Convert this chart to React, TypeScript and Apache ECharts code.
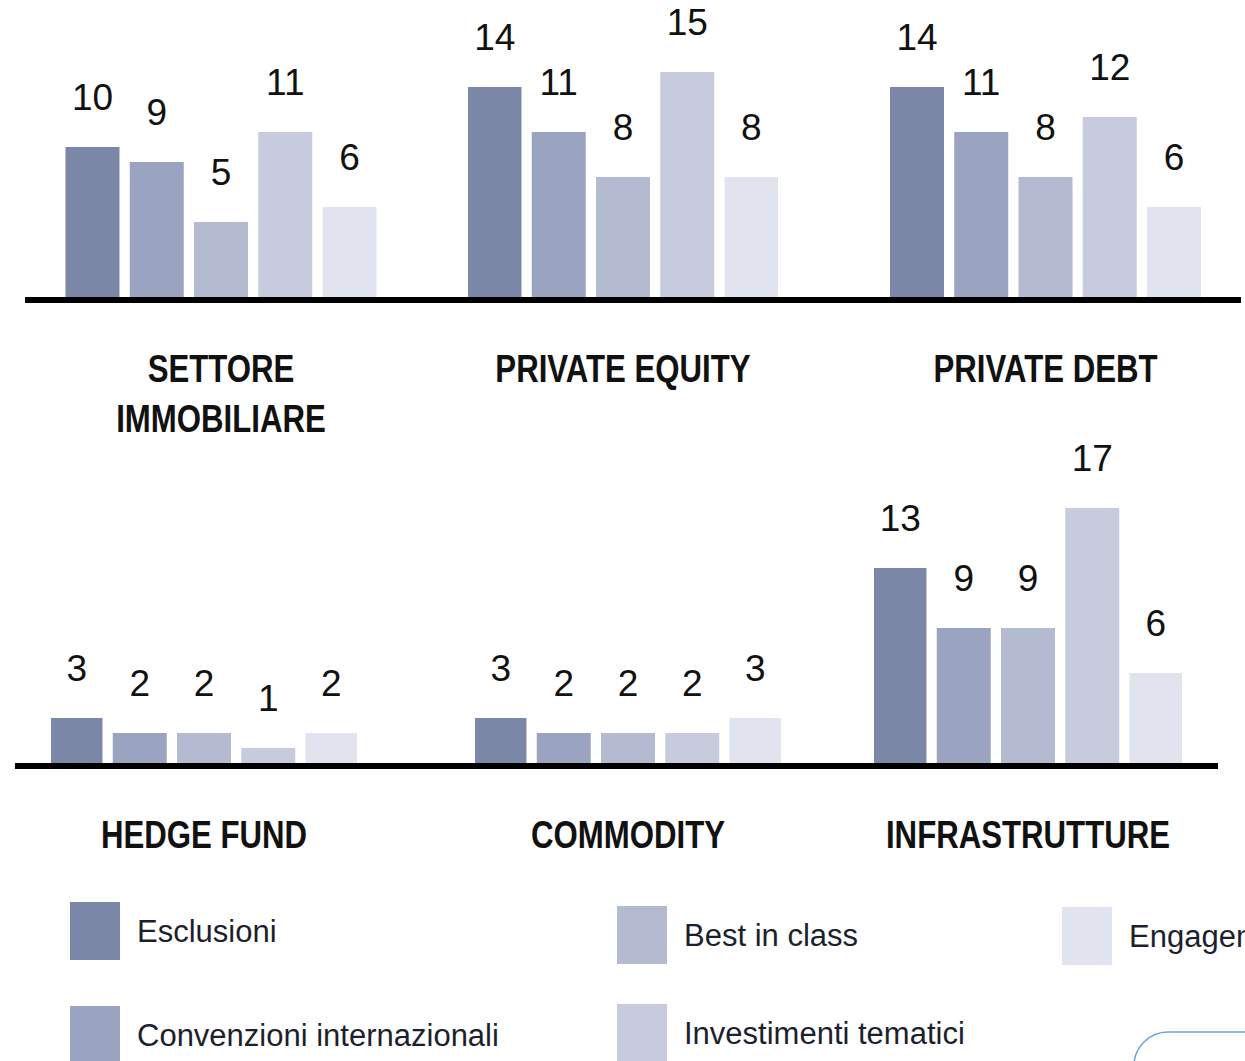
import React, { useEffect, useRef } from "react";
import * as echarts from "echarts";

// ---- Data ----
const categories = [
  "SETTORE\nIMMOBILIARE",
  "PRIVATE EQUITY",
  "PRIVATE DEBT",
  "HEDGE FUND",
  "COMMODITY",
  "INFRASTRUTTURE",
];
const seriesNames = [
  "Esclusioni",
  "Convenzioni internazionali",
  "Best in class",
  "Investimenti tematici",
  "Engagement",
];
const esclusioni = [10, 14, 14, 3, 3, 13];
const convenzioni = [9, 11, 11, 2, 2, 9];
const bestInClass = [5, 8, 8, 2, 2, 9];
const tematici = [11, 15, 12, 1, 2, 17];
const engagement = [6, 8, 6, 2, 3, 6];
const seriesValues = [esclusioni, convenzioni, bestInClass, tematici, engagement];

// ---- Styles / layout ----
const colors = ["#7b87a6", "#9aa3bf", "#b4bad0", "#c7cbdd", "#e1e4ee"];
const panels = [
  { left: 65, width: 312, row: 0 },
  { left: 468, width: 310, row: 0 },
  { left: 890, width: 311, row: 0 },
  { left: 51, width: 306, row: 1 },
  { left: 475, width: 306, row: 1 },
  { left: 874, width: 308, row: 1 },
];
const rowBaseline = [297, 763];
const Y_MAX = 18;
const PX_PER_UNIT = 15;
const GRID_H = Y_MAX * PX_PER_UNIT;
const CAT_LABEL_OFFSET = 46;

const legendPos = [
  { name: "Esclusioni", left: 70, top: 902 },
  { name: "Best in class", left: 617, top: 906 },
  { name: "Engagement", left: 1062, top: 907 },
  { name: "Convenzioni internazionali", left: 70, top: 1006 },
  { name: "Investimenti tematici", left: 617, top: 1004 },
];

const SANS = "'Liberation Sans', Arial, sans-serif";

export default function App() {
  const ref = useRef<HTMLDivElement>(null);

  useEffect(() => {
    document.body.style.margin = "0";
    if (!ref.current) return;
    const chart = echarts.init(ref.current, null, { renderer: "svg" });

    const grid = panels.map((p) => ({
      left: p.left,
      width: p.width,
      top: rowBaseline[p.row] - GRID_H,
      height: GRID_H,
      containLabel: false,
    }));

    const xAxis = panels.map((_, i) => ({
      type: "category",
      gridIndex: i,
      data: [categories[i]],
      axisLine: { show: false },
      axisTick: { show: false },
      splitLine: { show: false },
      axisLabel: { show: false },
    }));

    const yAxis = panels.map((_, i) => ({
      type: "value",
      gridIndex: i,
      min: 0,
      max: Y_MAX,
      show: false,
      splitLine: { show: false },
    }));

    const series: any[] = [];
    panels.forEach((_, i) => {
      seriesNames.forEach((name, s) => {
        series.push({
          type: "bar",
          name,
          xAxisIndex: i,
          yAxisIndex: i,
          data: [seriesValues[s][i]],
          barWidth: 54,
          barGap: "19%",
          itemStyle: { color: colors[s] },
          label: {
            show: true,
            position: "top",
            distance: 31,
            fontSize: 37,
            fontFamily: SANS,
            color: "#111111",
          },
        });
      });
    });

    const legend = legendPos.map((l) => ({
      data: [l.name],
      left: l.left,
      top: l.top,
      padding: 0,
      orient: "horizontal",
      icon: "rect",
      itemWidth: 50,
      itemHeight: 58,
      selectedMode: false,
      textStyle: {
        fontSize: 31,
        fontFamily: SANS,
        color: "#1d1f2e",
        padding: [0, 0, 0, 12],
      },
    }));

    // condensed bold category titles under each panel
    const categoryTexts = panels.map((p, i) => ({
      type: "text",
      x: p.left + p.width / 2,
      y: rowBaseline[p.row] + CAT_LABEL_OFFSET,
      scaleX: 0.8,
      style: {
        text: categories[i],
        fontSize: 39,
        fontWeight: "bold",
        fontFamily: SANS,
        fill: "#111111",
        align: "center",
        verticalAlign: "top",
        lineHeight: 50,
      },
    }));

    chart.setOption({
      animation: false,
      backgroundColor: "#ffffff",
      grid,
      xAxis,
      yAxis,
      series,
      legend,
      graphic: [
        ...categoryTexts,
        {
          type: "rect",
          z: 100,
          shape: { x: 25, y: 297, width: 1216, height: 6 },
          style: { fill: "#000000" },
        },
        {
          type: "rect",
          z: 100,
          shape: { x: 15, y: 763, width: 1203, height: 6 },
          style: { fill: "#000000" },
        },
        {
          type: "rect",
          shape: { x: 1134, y: 1032, width: 220, height: 70, r: 34 },
          style: { fill: "none", stroke: "#6ea6d6", lineWidth: 1.5 },
        },
      ],
    });

    return () => {
      chart.dispose();
    };
  }, []);

  return <div ref={ref} style={{ width: 1245, height: 1061 }} />;
}
